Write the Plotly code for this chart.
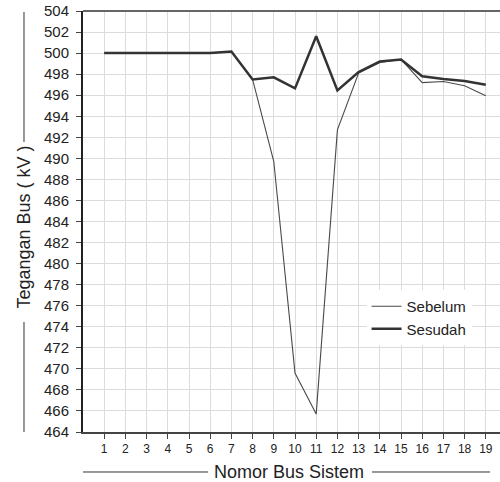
import plotly.graph_objects as go

bus = list(range(1, 20))
sebelum = [500.0, 500.0, 500.0, 500.0, 500.0, 500.0, 500.15, 497.5, 489.7, 469.6,
           465.7, 492.7, 498.1, 499.1, 499.4, 497.2, 497.3, 496.9, 495.95]
sesudah = [500.0, 500.0, 500.0, 500.0, 500.0, 500.0, 500.15, 497.5, 497.7, 496.65,
           501.6, 496.45, 498.2, 499.2, 499.4, 497.8, 497.55, 497.35, 497.0]
y_ticks = list(range(464, 505, 2))

FONT = "Liberation Sans, Arial, sans-serif"

fig = go.Figure()
fig.add_trace(go.Scatter(x=bus, y=sebelum, mode="lines", name="Sebelum",
                         legendgroup="a",
                         line=dict(color="#4a4a4a", width=1.1)))
fig.add_trace(go.Scatter(x=bus, y=sesudah, mode="lines", name="Sesudah",
                         legendgroup="b",
                         line=dict(color="#333333", width=2.5)))

fig.update_layout(
    width=500, height=482,
    margin=dict(l=83, r=0, t=11, b=50, autoexpand=False),
    paper_bgcolor="white", plot_bgcolor="white",
    font=dict(family=FONT, color="#222222"),
    showlegend=True,
    legend=dict(x=0.68, y=0.3373, xanchor="left", yanchor="top",
                bgcolor="white", borderwidth=0, tracegroupgap=0,
                font=dict(size=15, family=FONT, color="#222222")),
    xaxis=dict(range=[0, 19.67], tickmode="array", tickvals=bus,
               ticktext=[str(b) for b in bus],
               showgrid=True, gridcolor="#dcdcdc", gridwidth=1,
               showline=True, linecolor="#444444", linewidth=2,
               ticks="outside", ticklen=5, tickcolor="#444444",
               tickfont=dict(size=12, family=FONT, color="#222222"),
               ticklabelstandoff=0, zeroline=False, fixedrange=True),
    yaxis=dict(range=[464, 504], tickmode="array", tickvals=y_ticks,
               ticktext=[str(v) for v in y_ticks],
               showgrid=True, gridcolor="#dcdcdc", gridwidth=1,
               showline=True, linecolor="#222222", linewidth=2,
               ticks="outside", ticklen=5, tickcolor="#444444",
               tickfont=dict(size=15, family=FONT, color="#222222"),
               ticklabelstandoff=4, zeroline=False, fixedrange=True),
)

# top border of the plot area
fig.add_shape(type="line", xref="paper", yref="paper", x0=0, x1=1, y0=1, y1=1,
              line=dict(color="#666666", width=2))

# axis titles with decorative lines
fig.add_annotation(text="Tegangan Bus ( kV )", xref="paper", yref="paper",
                   x=-0.1415, y=0.488, xanchor="center", yanchor="middle",
                   textangle=-90, showarrow=False,
                   font=dict(size=18, family=FONT, color="#222222"))
fig.add_annotation(text="Nomor Bus Sistem", xref="paper", yref="paper",
                   x=0.494, y=-0.095, xanchor="center", yanchor="middle",
                   showarrow=False,
                   font=dict(size=18, family=FONT, color="#222222"))
line_style = dict(color="#333333", width=1)
fig.add_shape(type="line", xref="paper", yref="paper", x0=-0.1415, x1=-0.1415,
              y0=0.6888, y1=0.9976, line=line_style)
fig.add_shape(type="line", xref="paper", yref="paper", x0=-0.1415, x1=-0.1415,
              y0=0.0, y1=0.2613, line=line_style)
fig.add_shape(type="line", xref="paper", yref="paper", x0=0.0, x1=0.2998,
              y0=-0.095, y1=-0.095, line=line_style)
fig.add_shape(type="line", xref="paper", yref="paper", x0=0.693, x1=0.976,
              y0=-0.095, y1=-0.095, line=line_style)

fig.write_html(
    "out.html",
    config={"displayModeBar": False},
    post_script="document.body.style.margin='0';document.body.style.overflow='hidden';",
)
